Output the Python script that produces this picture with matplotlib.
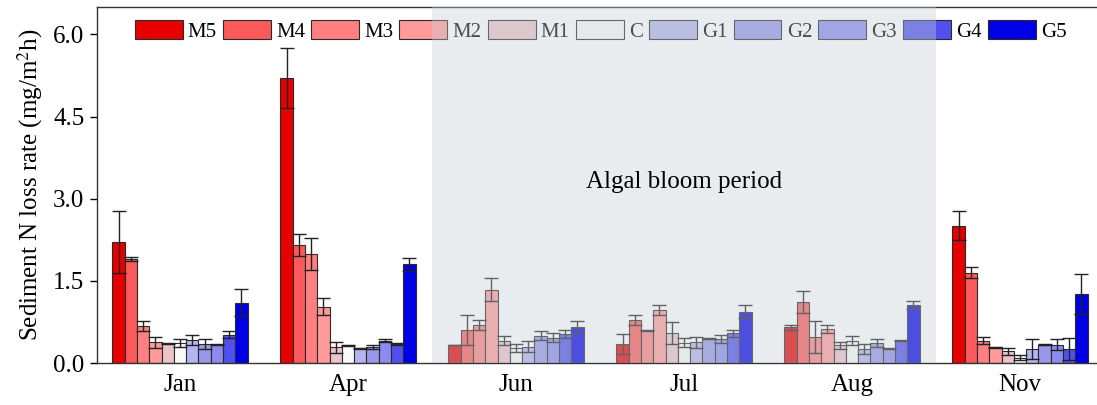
import matplotlib
matplotlib.use("Agg")
import matplotlib.pyplot as plt
import numpy as np

plt.rcParams['font.family'] = ['Liberation Serif', 'DejaVu Serif']
plt.rcParams['mathtext.fontset'] = 'stix'

months = ["Jan", "Apr", "Jun", "Jul", "Aug", "Nov"]
treatments = ["M5", "M4", "M3", "M2", "M1", "C", "G1", "G2", "G3", "G4", "G5"]
colors = ["#e60000", "#fa5a5a", "#fd7f7f", "#ff9a9a", "#ebc3c8", "#f9f9f9",
          "#b4b4ee", "#9898e8", "#8c8cf0", "#5050ee", "#0000e6"]

# values per treatment across months (Jan, Apr, Jun, Jul, Aug, Nov)
means = {
    "M5": [2.21, 5.21, 0.33, 0.35, 0.65, 2.51],
    "M4": [1.90, 2.16, 0.60, 0.79, 1.11, 1.65],
    "M3": [0.68, 1.99, 0.70, 0.60, 0.48, 0.41],
    "M2": [0.38, 1.03, 1.34, 0.96, 0.62, 0.29],
    "M1": [0.35, 0.29, 0.41, 0.54, 0.32, 0.21],
    "C":  [0.37, 0.32, 0.27, 0.37, 0.41, 0.10],
    "G1": [0.42, 0.27, 0.30, 0.38, 0.26, 0.26],
    "G2": [0.35, 0.29, 0.50, 0.45, 0.36, 0.33],
    "G3": [0.33, 0.41, 0.46, 0.44, 0.26, 0.33],
    "G4": [0.52, 0.35, 0.53, 0.54, 0.41, 0.26],
    "G5": [1.10, 1.80, 0.65, 0.94, 1.06, 1.26],
}
errors = {
    "M5": [0.56, 0.55, 0.00, 0.18, 0.05, 0.26],
    "M4": [0.04, 0.20, 0.28, 0.09, 0.20, 0.10],
    "M3": [0.09, 0.30, 0.09, 0.01, 0.29, 0.06],
    "M2": [0.10, 0.15, 0.21, 0.09, 0.07, 0.01],
    "M1": [0.01, 0.10, 0.09, 0.20, 0.06, 0.06],
    "C":  [0.07, 0.01, 0.07, 0.08, 0.08, 0.04],
    "G1": [0.10, 0.01, 0.10, 0.10, 0.09, 0.18],
    "G2": [0.09, 0.04, 0.08, 0.01, 0.07, 0.01],
    "G3": [0.01, 0.02, 0.08, 0.07, 0.01, 0.10],
    "G4": [0.06, 0.02, 0.07, 0.07, 0.01, 0.20],
    "G5": [0.25, 0.12, 0.11, 0.11, 0.07, 0.37],
}
yticks = [0.0, 1.5, 3.0, 4.5, 6.0]
shade_label = "Algal bloom period"

fig = plt.figure(figsize=(10.97, 4.05), dpi=100)
ax = fig.add_axes([97/1097, 1-363/405, 1000/1097, (363-7)/405])

x = np.arange(len(months))
w = 0.0732
for i, t in enumerate(treatments):
    pos = x + (i - 5) * w
    ax.bar(pos, means[t], width=w, color=colors[i], edgecolor="#2a2a2a",
           linewidth=0.8, label=t, zorder=2)
    ax.errorbar(pos, means[t], yerr=errors[t], fmt="none", ecolor="#222222",
                elinewidth=1.0, capsize=5, capthick=1.0, zorder=3)

ax.set_xlim((97-180)/168, (1097-180)/168)
ax.set_ylim(0, 6.5)
ax.set_yticks(yticks)
ax.set_yticklabels([f"{v:.1f}" for v in yticks], fontsize=18)
ax.set_xticks(x)
ax.set_xticklabels(months, fontsize=18)
ax.tick_params(axis="x", length=0, pad=8)
ax.tick_params(axis="y", direction="out", length=5, width=1, pad=4)
for s in ["left", "bottom", "top"]:
    ax.spines[s].set_color("#333333")
    ax.spines[s].set_linewidth(1.0)
ax.spines["right"].set_visible(False)

ax.set_ylabel("Sediment N loss rate (mg/m$^2$h)", fontsize=18, labelpad=6)

leg = ax.legend(ncol=11, loc="upper left", bbox_to_anchor=(0.023, 1.005),
                frameon=False, fontsize=15, handlelength=2.3, handleheight=1.05,
                handletextpad=0.25, columnspacing=0.29, borderaxespad=0.3)

ax.axvspan(1.5, 4.5, facecolor="#c6cfd3", alpha=0.38, edgecolor="none", zorder=6)
ax.text(3.0, 3.31, shade_label, ha="center", va="center", fontsize=18, zorder=7)

fig.savefig("out.png", dpi=100)
